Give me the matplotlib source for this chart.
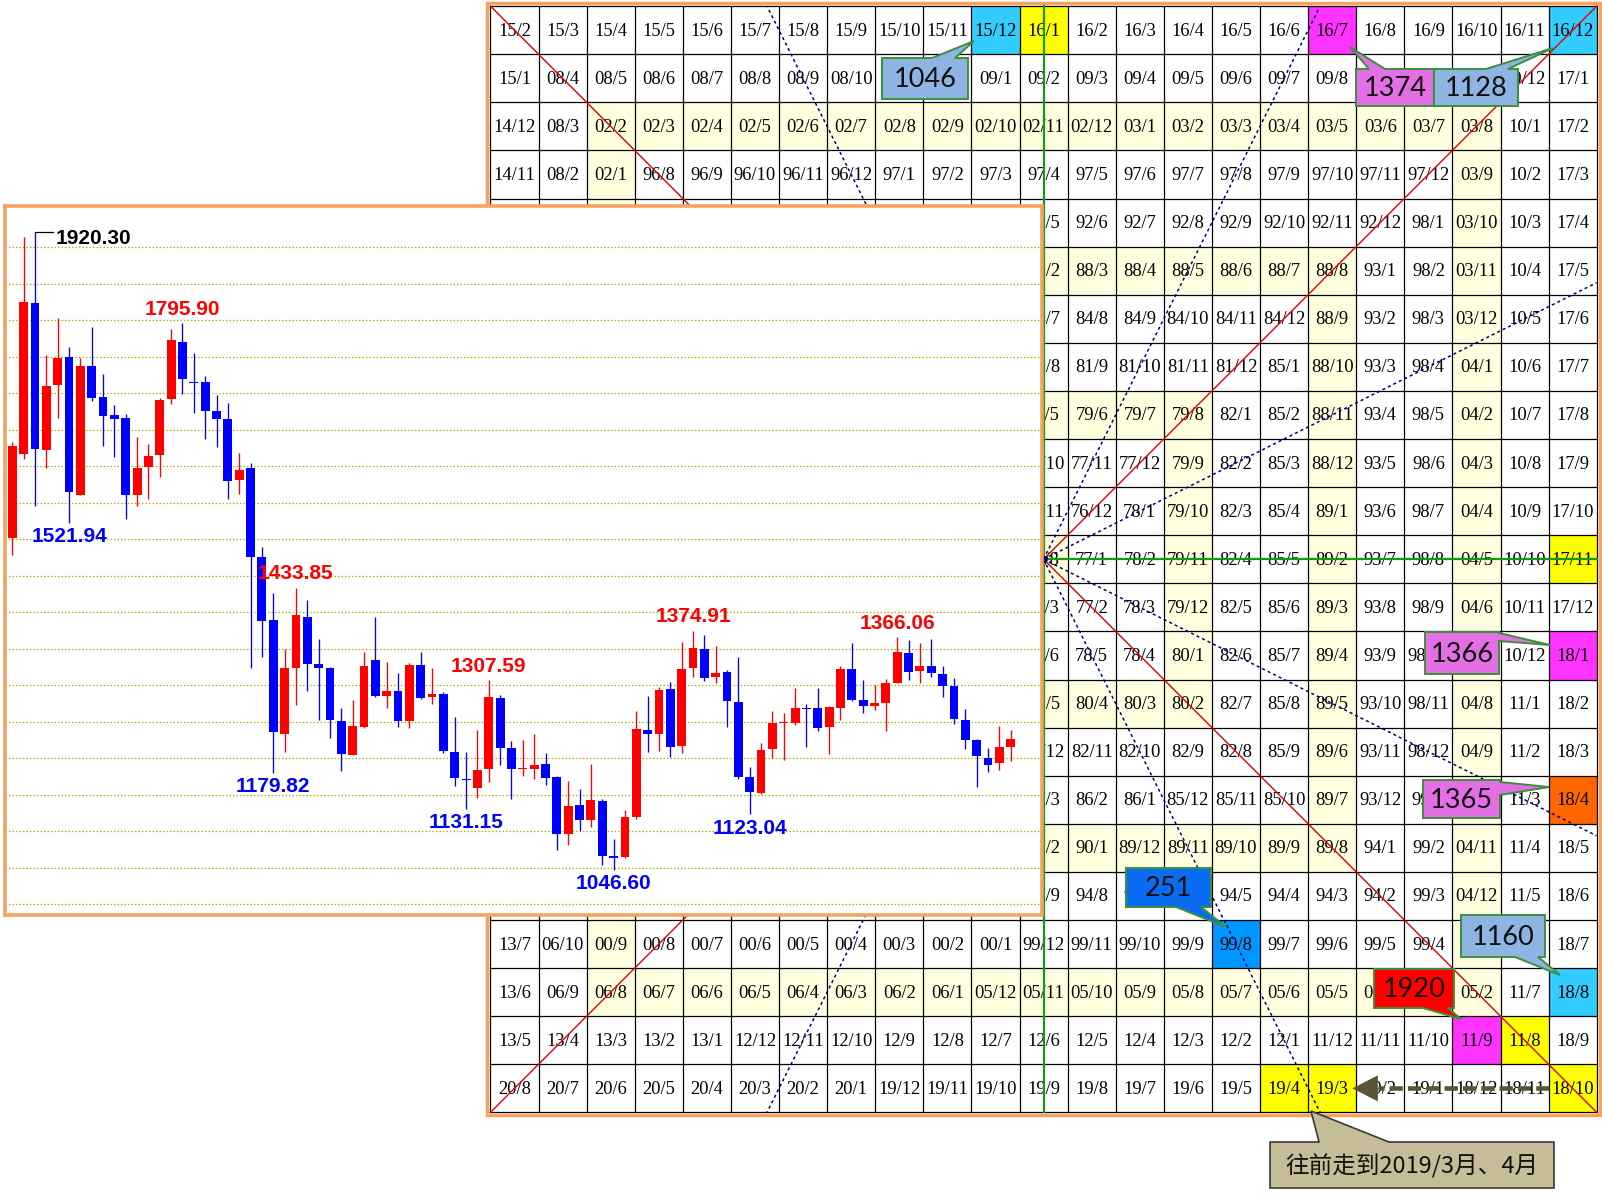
import matplotlib
matplotlib.use("Agg")
import matplotlib.pyplot as plt
from matplotlib.patches import Rectangle, Polygon

# ---------------------------------------------------------------- data
opens = [1502.2, 1616.4, 1823.7, 1622.8, 1711.3, 1749.7, 1561.1, 1737.4, 1694.9, 1670.2,
         1666.1, 1560.1, 1599.5, 1615.9, 1692.6, 1770.7, 1715.4, 1715.4, 1675.7, 1664.8,
         1581.7, 1597.2, 1475.3, 1389.4, 1233.7, 1324.1, 1393.5, 1328.7, 1323.7, 1251.1,
         1204.9, 1243.3, 1334.6, 1285.8, 1292.2, 1251.1, 1327.8, 1284.4, 1288.1, 1208.6,
         1171.2, 1159.7, 1185.8, 1282.6, 1213.6, 1184.9, 1185.4, 1192.3, 1174.4, 1096.4,
         1136.1, 1115.5, 1141.6, 1066.2, 1064.4, 1119.2, 1238.8, 1233.8, 1295.0, 1217.4,
         1324.2, 1349.8, 1311.0, 1318.3, 1276.7, 1174.4, 1152.1, 1212.3, 1248.4, 1248.0,
         1269.4, 1269.0, 1243.4, 1269.4, 1322.4, 1279.9, 1272.2, 1275.8, 1303.2, 1344.3,
         1319.7, 1326.5, 1315.5, 1299.1, 1252.5, 1225.1, 1200.0, 1194.1, 1216.0]
highs = [1632.8, 1913.6, 1920.30, 1752.4, 1802.7, 1763.4, 1747.9, 1790.8, 1725.9, 1683.9,
         1671.2, 1640.6, 1630.5, 1694.0, 1788.0, 1795.90, 1755.6, 1723.7, 1697.6, 1686.7,
         1618.2, 1604.0, 1489.9, 1425.9, 1350.1, 1433.85, 1416.8, 1363.4, 1325.5, 1269.3,
         1279.8, 1346.0, 1394.0, 1332.3, 1317.3, 1331.0, 1346.0, 1324.1, 1291.2, 1257.0,
         1208.6, 1238.7, 1307.59, 1286.7, 1223.7, 1225.0, 1233.4, 1207.8, 1175.8, 1169.4,
         1158.0, 1192.3, 1144.3, 1090.0, 1129.2, 1264.9, 1285.4, 1297.3, 1304.1, 1359.8,
         1374.91, 1369.0, 1353.9, 1321.0, 1338.4, 1187.7, 1221.5, 1264.9, 1262.6, 1296.8,
         1274.4, 1296.8, 1271.7, 1326.5, 1358.5, 1307.3, 1300.5, 1308.7, 1366.06, 1362.1,
         1358.5, 1364.0, 1326.9, 1310.1, 1267.6, 1226.1, 1214.6, 1244.8, 1238.8]
lows = [1478.5, 1610.0, 1546.0, 1597.2, 1666.6, 1521.94, 1560.0, 1689.4, 1628.2, 1613.2,
        1527.8, 1546.0, 1555.2, 1585.8, 1685.3, 1699.0, 1673.4, 1636.9, 1626.9, 1555.6,
        1562.5, 1323.3, 1339.2, 1179.82, 1209.1, 1273.0, 1292.6, 1252.4, 1228.2, 1182.6,
        1204.0, 1241.9, 1283.5, 1269.3, 1243.3, 1241.9, 1280.7, 1274.4, 1206.8, 1162.0,
        1131.15, 1145.1, 1168.0, 1190.8, 1143.8, 1176.2, 1171.7, 1163.5, 1074.5, 1081.3,
        1100.9, 1106.4, 1053.9, 1046.60, 1063.5, 1116.5, 1208.7, 1210.5, 1202.3, 1206.9,
        1311.9, 1306.4, 1303.7, 1242.5, 1171.7, 1123.04, 1151.0, 1200.0, 1197.7, 1245.7,
        1216.0, 1237.9, 1206.0, 1252.5, 1279.0, 1262.6, 1266.2, 1237.5, 1302.5, 1307.3,
        1302.8, 1311.4, 1283.6, 1247.1, 1212.8, 1161.2, 1181.3, 1184.0, 1196.4]
closes = [1628.2, 1825.5, 1624.1, 1710.0, 1748.3, 1565.2, 1736.9, 1694.0, 1669.3, 1665.2,
          1560.1, 1597.2, 1614.1, 1690.8, 1773.0, 1720.0, 1714.5, 1676.2, 1665.2, 1580.3,
          1594.4, 1476.2, 1388.5, 1236.5, 1323.7, 1396.3, 1329.6, 1324.1, 1252.9, 1206.3,
          1244.2, 1326.4, 1285.8, 1292.2, 1251.1, 1327.8, 1283.0, 1288.1, 1210.0, 1173.4,
          1169.8, 1183.9, 1284.4, 1214.5, 1184.9, 1186.7, 1190.9, 1173.5, 1096.4, 1134.7,
          1115.5, 1142.9, 1066.2, 1063.0, 1119.2, 1240.2, 1233.8, 1293.6, 1216.0, 1321.9,
          1351.2, 1310.5, 1316.5, 1279.0, 1174.9, 1153.4, 1211.4, 1248.9, 1250.2, 1269.0,
          1268.1, 1242.0, 1270.3, 1322.4, 1279.9, 1272.2, 1275.8, 1303.2, 1345.7, 1318.3,
          1326.5, 1316.9, 1299.1, 1253.9, 1225.1, 1203.7, 1190.9, 1215.5, 1226.5]
grid_levels = [1000, 1050, 1100, 1150, 1200, 1250, 1300, 1350, 1400, 1450,
               1500, 1550, 1600, 1650, 1700, 1750, 1800, 1850, 1900]

peak_bars = [2, 15, 5, 25, 23, 42, 40, 60, 53, 65, 78]
peak_kinds = ["top", "high", "low", "high", "low", "high", "low", "high", "low", "low", "high"]
peak_texts = ["1920.30", "1795.90", "1521.94", "1433.85", "1179.82", "1307.59",
              "1131.15", "1374.91", "1046.60", "1123.04", "1366.06"]

spiral_start_year = 1976
spiral_start_month = 8
grid_size = 23
highlight_labels = ["15/12", "16/1", "16/7", "16/12", "17/11", "18/1", "18/4",
                    "99/8", "18/8", "11/9", "11/8", "19/4", "19/3", "18/10"]
highlight_kinds = ["cyan", "yellow", "magenta", "cyan", "yellow", "magenta", "orange",
                   "blue", "cyan", "magenta", "yellow", "yellow", "yellow", "yellow"]
callout_texts = ["1046", "1374", "1128", "1366", "1365", "251", "1160", "1920"]
note_text = "往前走到2019/3月、4月"

# ---------------------------------------------------------------- styles
W, H, DPI = 1602, 1195, 100
KIND_COLORS = {"cyan": "#33CCFF", "yellow": "#FFFF00", "magenta": "#FF33FF",
               "orange": "#FF6600", "blue": "#0096FF"}
SHADE = "#FFFFE0"
RED, BLUE = "#FF0000", "#0000FF"
ORANGE_FRAME = "#F6A35E"

fig = plt.figure(figsize=(W / DPI, H / DPI), dpi=DPI)
fig.patch.set_facecolor("white")

# ---------------------------------------------------------------- layout of overlays (pixels)
PX0, PY0, PX1, PY1 = 5.1, 206.4, 1042.0, 915.4          # candlestick panel
LB, PK, GE = "#8EB4E3", "#E46FE4", "#3C8F3C"
callout_specs = [  # box, side, base a, base b, tip, face colour
    ((882, 58, 968, 99), "top", 932, 955, (974, 41), LB),
    ((1356, 69, 1434, 106), "top", 1369, 1385, (1350, 47), PK),
    ((1434, 69, 1518, 106), "top", 1486, 1508, (1553, 48), LB),
    ((1425, 632, 1499, 674), "right", 633, 641, (1550, 645), PK),
    ((1423, 780, 1500, 818), "right", 782, 795, (1549, 787), PK),
    ((1126, 868, 1211, 907), "bottom", 1176, 1201, (1226, 927), "#0A6CF2"),
    ((1461, 915, 1545, 957), "bottom", 1515, 1538, (1560, 975), LB),
    ((1374, 969, 1454, 1008), "bottom", 1423, 1448, (1461, 1019), "#FF0000"),
]
note_spec = ((1270, 1142, 1554, 1188), "top", 1319, 1389, (1311, 1111), "#C4BD97")

# ---------------------------------------------------------------- Gann grid (pixel coords)
base = fig.add_axes([0, 0, 1, 1])
base.set_xlim(0, W)
base.set_ylim(H, 0)
base.axis("off")

GX0, GY0, CELL = 490.4, 6.1, 48.1
N = grid_size
C = N // 2

cells = {}
r = c = C
m = spiral_start_year * 12 + spiral_start_month - 1
cells[(r, c)] = m
k = 1
while len(cells) < N * N:
    if k % 2 == 1:
        steps = [(0, -1)] * k + [(-1, 0)] * k
    else:
        steps = [(0, 1)] * k + [(1, 0)] * k
    for dr, dc in steps:
        r += dr
        c += dc
        m += 1
        if 0 <= r < N and 0 <= c < N:
            cells[(r, c)] = m
    k += 1

hl = dict(zip(highlight_labels, highlight_kinds))

def lab(mm):
    return "%02d/%d" % ((mm // 12) % 100, mm % 12 + 1)

def hidden(x0, y0):
    xc, yc = x0 + CELL / 2, y0 + CELL / 2
    # text completely under the candlestick panel
    if x0 + CELL <= PX1 + 1 and yc - 12 >= PY0 and yc + 12 <= PY1:
        return True
    # text mostly under a callout box
    for (bx0, by0, bx1, by1), *_ in callout_specs:
        if bx0 + 15 <= xc <= bx1 - 15 and by0 <= yc <= by1:
            return True
    return False

for (rr, cc), mm in cells.items():
    x0 = GX0 + cc * CELL
    y0 = GY0 + rr * CELL
    t = lab(mm)
    ring = max(abs(rr - C), abs(cc - C))
    fc = "white"
    if ring % 3 == 0:
        fc = SHADE
    if t in hl:
        fc = KIND_COLORS[hl[t]]
    base.add_patch(Rectangle((x0, y0), CELL, CELL, facecolor=fc, edgecolor="none", zorder=1))
    if not hidden(x0, y0):
        base.text(x0 + CELL / 2, y0 + CELL / 2 + 1, t, ha="center", va="center",
                  fontsize=13.3, family="Liberation Serif", color="black", zorder=3)

for i in range(N + 1):
    base.plot([GX0 + i * CELL] * 2, [GY0, GY0 + N * CELL], color="black", lw=0.9, zorder=2)
    base.plot([GX0, GX0 + N * CELL], [GY0 + i * CELL] * 2, color="black", lw=0.9, zorder=2)
base.add_patch(Rectangle((GX0 - 3, GY0 - 3), N * CELL + 6, N * CELL + 6, fill=False,
                         edgecolor=ORANGE_FRAME, lw=2.5, zorder=2))

def P(cx, cy):
    return GX0 + cx * CELL, GY0 + cy * CELL

# red diagonals
for (a, b) in [((0, 0), (N, N)), ((0, N), (N, 0))]:
    p1, p2 = P(*a), P(*b)
    base.plot([p1[0], p2[0]], [p1[1], p2[1]], color="#E00000", lw=1.0, zorder=4)

# green cross through the centre cell
cx, cy = P(C + 0.5, C + 0.5)
base.plot([cx, cx], [GY0, GY0 + N * CELL], color="#129A12", lw=1.6, zorder=4)
base.plot([GX0, GX0 + N * CELL], [cy, cy], color="#129A12", lw=1.6, zorder=4)

# blue dotted fan lines
ctr = C + 0.5
half = N / 2
for dx, dy in [(half / 2, -half), (half / 2, half), (-half / 2, -half), (-half / 2, half),
               (half, -half / 2), (half, half / 2), (-half, -half / 2), (-half, half / 2)]:
    p1 = P(ctr, ctr)
    p2 = P(ctr + dx, ctr + dy)
    base.plot([p1[0], p2[0]], [p1[1], p2[1]], color="#000080", lw=1.1,
              linestyle=(0, (2, 2)), zorder=4)
base.plot([cx], [cy], "o", ms=4, color="#000080", zorder=4)

# thick dashed arrow on the bottom row
ay = GY0 + (N - 0.5) * CELL
ax0 = GX0 + 22.0 * CELL
atip = GX0 + 17.92 * CELL
abase = GX0 + 18.45 * CELL
base.plot([ax0, abase], [ay, ay], color="#5C5436", lw=3.3, dashes=(2.9, 1.1),
          solid_capstyle="butt", zorder=5)
base.add_patch(Polygon([(atip, ay), (abase, ay - 13), (abase, ay + 13)], closed=True,
                       facecolor="#5C5436", edgecolor="none", zorder=5))

def callout(box, side, a, b, tip, fc, ec, text, fs, family, lw=1.4):
    x0, y0, x1, y1 = box
    if side == "top":
        v = [(x0, y0), (a, y0), tip, (b, y0), (x1, y0), (x1, y1), (x0, y1)]
    elif side == "right":
        v = [(x0, y0), (x1, y0), (x1, a), tip, (x1, b), (x1, y1), (x0, y1)]
    else:
        v = [(x0, y0), (x1, y0), (x1, y1), (b, y1), tip, (a, y1), (x0, y1)]
    base.add_patch(Polygon(v, closed=True, facecolor=fc, edgecolor=ec, lw=lw,
                           joinstyle="miter", zorder=6))
    base.text((x0 + x1) / 2, (y0 + y1) / 2 + 1, text, ha="center", va="center",
              fontsize=fs, family=family, color="#111111", zorder=7)

for spec, txt in zip(callout_specs, callout_texts):
    box, side, a, b, tip, fc = spec
    callout(box, side, a, b, tip, fc, GE, txt, 19.5, "Lato")
box, side, a, b, tip, fc = note_spec
callout(box, side, a, b, tip, fc, "#3A3A3A", note_text, 17,
        ["Noto Sans CJK SC", "DejaVu Sans"], lw=1.2)

# ---------------------------------------------------------------- candlestick panel
ax = fig.add_axes([PX0 / W, 1 - PY1 / H, (PX1 - PX0) / W, (PY1 - PY0) / H], zorder=10)
ax.set_facecolor("white")
bar_x0, bar_dx = 12.3, 11.345
ax.set_xlim((PX0 - bar_x0) / bar_dx, (PX1 - bar_x0) / bar_dx)
ppx = 1.3699
ax.set_ylim(1900 - (PY1 - 247.3) * ppx, 1900 + (247.3 - PY0) * ppx)
for s in ax.spines.values():
    s.set_color(ORANGE_FRAME)
    s.set_linewidth(2.6)
ax.set_xticks([])
ax.set_yticks([])

for lv in grid_levels:
    ax.axhline(lv, color="#B4B400", lw=0.9, linestyle=(0, (1.2, 1.6)), zorder=1)

xs = list(range(len(opens)))
cols = [RED if cl >= op else BLUE for op, cl in zip(opens, closes)]
ax.vlines(xs, lows, highs, colors=cols, lw=0.95, zorder=2)
bottoms = [min(o, c_) for o, c_ in zip(opens, closes)]
heights = [max(abs(c_ - o), 1.3) for o, c_ in zip(opens, closes)]
ax.bar(xs, heights, bottom=bottoms, width=0.78, color=cols, edgecolor="none", zorder=3)

LFONT = dict(fontsize=15, fontweight="bold", family="Liberation Sans", zorder=5)
for b, kind, t in zip(peak_bars, peak_kinds, peak_texts):
    if kind == "top":
        y = highs[b]
        ax.plot([b, b + 1.6], [y, y], color="black", lw=0.9, zorder=4)
        ax.annotate(t, (b, y), xytext=(14.5, -4.5), textcoords="offset points",
                    ha="left", va="center", color="black", **LFONT)
    elif kind == "high":
        ax.annotate(t, (b, highs[b]), xytext=(0, 9.8), textcoords="offset points",
                    ha="center", va="center", color=RED, **LFONT)
    else:
        ax.annotate(t, (b, lows[b]), xytext=(0, -9.8), textcoords="offset points",
                    ha="center", va="center", color=BLUE, **LFONT)

fig.savefig("out.png", dpi=DPI, facecolor="white")
